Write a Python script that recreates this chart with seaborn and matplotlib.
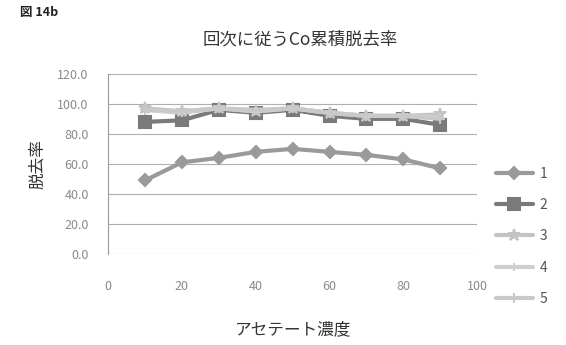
import matplotlib
matplotlib.use("Agg")
import matplotlib.pyplot as plt
import seaborn as sns
import pandas as pd

sns.set_style("white")
plt.rcParams["font.family"] = ["Noto Sans CJK JP", "DejaVu Sans"]

# Acetate concentration and cumulative Co removal rate per run
concentration = [10, 20, 30, 40, 50, 60, 70, 80, 90]
run1 = [49, 61, 64, 68, 70, 68, 66, 63, 57]
run2 = [88, 89, 96, 94, 96, 92, 90, 90, 86]
run3 = [97, 95, 97, 95, 97, 94, 92, 92, 93]
run4 = [96, 94, 97, 95, 97, 94, 92, 92, 91]
run5 = [96, 95, 97, 96, 97, 94, 92, 92, 90]
run_labels = ["1", "2", "3", "4", "5"]

runs = [run1, run2, run3, run4, run5]
df = pd.concat(
    [pd.DataFrame({"濃度": concentration, "脱去率": vals, "回次": lab})
     for lab, vals in zip(run_labels, runs)],
    ignore_index=True,
)

colors = ["#9a9a9a", "#7a7a7a", "#c4c4c4", "#cfcfcf", "#c9c9c9"]
markers = ["D", "s", "*", "|", "+"]
sizes = [6, 8, 9, 6, 7]

fig = plt.figure(figsize=(5.66, 3.45), dpi=100)
ax = fig.add_axes([0.191, 0.264, 0.652, 0.522])

for lab, col, mk, ms in zip(run_labels, colors, markers, sizes):
    sns.lineplot(
        data=df[df["回次"] == lab], x="濃度", y="脱去率", ax=ax,
        color=col, marker=mk, markersize=ms, linewidth=3,
        markeredgecolor=col, markeredgewidth=1.5, label=lab, legend=False,
    )

ax.set_xlim(0, 100)
ax.set_ylim(0, 120)
ax.set_xticks(range(0, 101, 20))
ax.set_yticks(range(0, 121, 20))
ax.set_yticklabels([f"{v:.1f}" for v in range(0, 121, 20)])
ax.yaxis.grid(True, color="#b0b0b0", linewidth=0.8)
ax.set_axisbelow(True)
for side in ["top", "right", "bottom"]:
    ax.spines[side].set_visible(False)
ax.spines["left"].set_color("#999999")
ax.tick_params(axis="both", length=0, labelsize=9, colors="#8a8a8a")
ax.tick_params(axis="x", pad=19)
ax.tick_params(axis="y", pad=14)

ax.set_xlabel("アセテート濃度", fontsize=12, color="#333333", labelpad=20)
ax.set_ylabel("脱去率", fontsize=12, color="#333333", labelpad=8)

fig.text(0.53, 0.885, "回次に従うCo累積脱去率", ha="center", va="center",
         fontsize=12.5, color="#333333")
fig.text(0.035, 0.965, "図 14b", ha="left", va="center",
         fontsize=9, fontweight="bold", color="#222222")

handles, labels = ax.get_legend_handles_labels()
fig.legend(handles, labels, loc="center left", bbox_to_anchor=(0.855, 0.315),
           frameon=False, handlelength=2.6, handletextpad=0.5,
           labelspacing=1.25, fontsize=10, labelcolor="#555555")

fig.savefig("out.png", dpi=100)
